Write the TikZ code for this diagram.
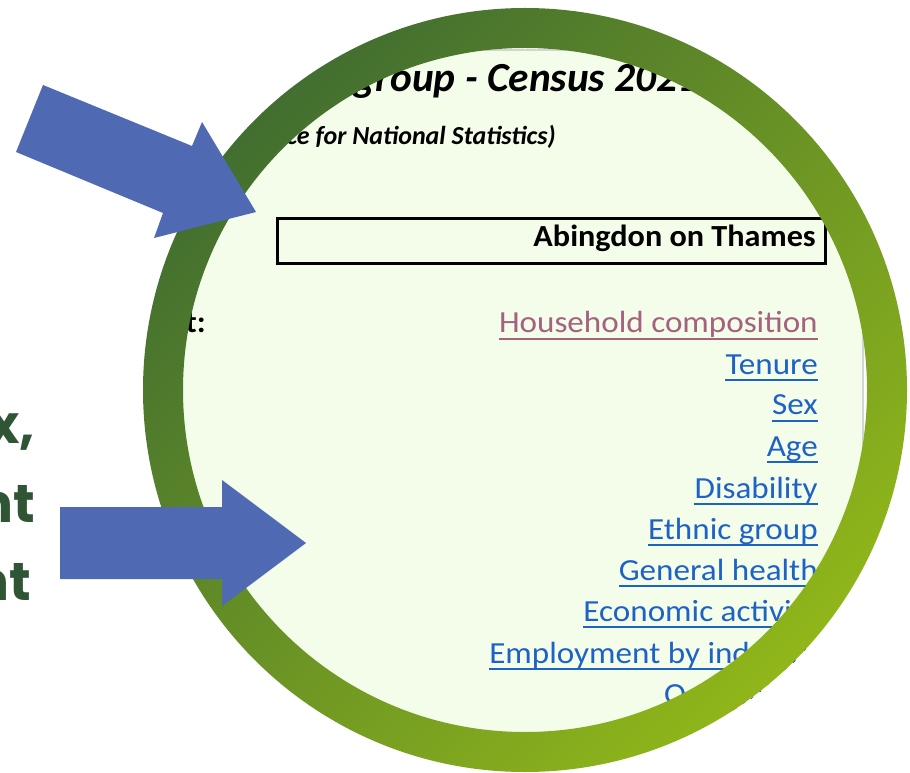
\documentclass[tikz,border=0pt]{standalone}
\usepackage{fontspec}
\setmainfont{Carlito}
\newfontfamily\popfont{Poppins}
\newfontfamily\linkfont{Carlito}[FakeStretch=1.08]
\newfontfamily\placefont{Carlito}[FakeStretch=1.05]
\usetikzlibrary{calc}
\definecolor{ringdark}{HTML}{426E30}
\definecolor{ringlight}{HTML}{90B61A}
\definecolor{paper}{HTML}{F3FDEA}
\definecolor{arrowblue}{HTML}{4F69B3}
\definecolor{linkblue}{HTML}{1F62C6}
\definecolor{linkvisited}{HTML}{A3627F}
\definecolor{leftgreen}{HTML}{2F5535}
\definecolor{sheetedge}{HTML}{D4D4D4}
\begin{document}
\begin{tikzpicture}[x=0.75pt,y=-0.75pt,
  sheettext/.style={inner sep=0pt, text=black},
  link/.style={inner sep=0pt, anchor=base east, text=linkblue, font=\linkfont\fontsize{23}{23}\selectfont},
  uline/.style={draw=linkblue, line width=1.4pt},
  bigarrow/.style={fill=arrowblue, draw=none},
  lefttext/.style={inner sep=0pt, anchor=base east, text=leftgreen, font=\popfont\bfseries\fontsize{40}{40}\selectfont}]
\useasboundingbox (0,0) rectangle (910,773);
\fill[white] (0,0) rectangle (910,773);
% spreadsheet area inside the ring
\begin{scope}
  \clip (525,390) circle[radius=256.5pt];
  \fill[paper] (100,50) rectangle (863,800);
  \draw[sheetedge, line width=1pt] (100,50) -- (863,50) -- (863,800);
\end{scope}
\begin{scope}
  \clip (525,390) circle[radius=286.5pt];
  \node[sheettext, anchor=base east, font=\bfseries\itshape\fontsize{31}{31}\selectfont] (t1) at (478,92) {group -};
  \node[sheettext, anchor=base west, font=\bfseries\itshape\fontsize{31}{31}\selectfont] (t2) at (487,92) {Census 2021};
  \node[sheettext, anchor=base east, font=\bfseries\itshape\fontsize{19.5}{19.5}\selectfont] (src) at (556,145) {(Source: Office for National Statistics)};
  \node[draw=black, line width=2.2pt, minimum width=548*0.75pt, minimum height=45*0.75pt, inner sep=0pt, anchor=north west] (box) at (276,217) {};
  \node[sheettext, anchor=base east, font=\placefont\bfseries\fontsize{23}{23}\selectfont] (place) at (816,247) {Abingdon on Thames};
  \node[sheettext, anchor=base east, font=\placefont\bfseries\fontsize{23}{23}\selectfont] (subj) at (206,333) {Subject:};
  \node[link, text=linkvisited] (l1) at (818,333) {Household composition};
  \draw[draw=linkvisited, line width=1.4pt] ($(l1.base west)+(0,6)$) -- ($(l1.base east)+(0,6)$);
  \foreach \name/\txt/\yy in {l2/Tenure/374, l3/Sex/415, l4/Age/456, l5/Disability/498, l6/Ethnic group/539, l7/General health/580, l8/Economic activity/621, l9/Employment by industry/663, l10/Occupation/704} {
    \node[link] (\name) at (818,\yy) {\txt};
    \draw[uline] ($(\name.base west)+(0,6)$) -- ($(\name.base east)+(0,6)$);
  }
\end{scope}
% ring
\shade[even odd rule, top color=ringdark, bottom color=ringlight, shading angle=45]
  (525,390) circle[radius=286.5pt] (525,390) circle[radius=256.5pt];
% left text
\begin{scope}
  \clip (0,0) rectangle (910,773);
  \node[lefttext] (w1) at (35,443) {sex,};
  \node[lefttext] (w2) at (35,522) {employment};
  \node[lefttext] (w3) at (31,600) {content};
\end{scope}
% arrows
\fill[bigarrow] (43,85) -- (192,146) -- (202,122) -- (256,212) -- (154,238) -- (163,213) -- (16,152) -- cycle;
\fill[bigarrow] (60,507) -- (222,507) -- (222,480) -- (306,543) -- (222,606) -- (222,579) -- (60,579) -- cycle;
\end{tikzpicture}
\end{document}
